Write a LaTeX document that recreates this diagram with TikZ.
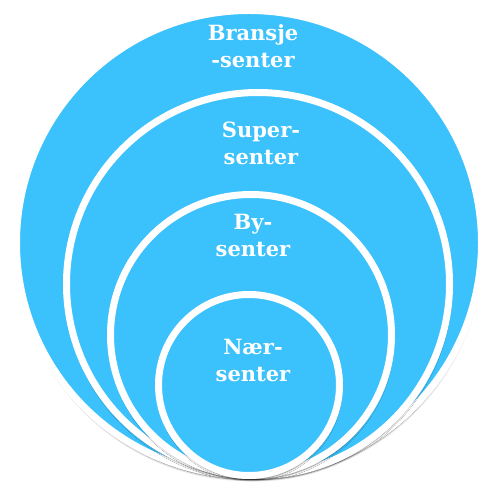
\documentclass[tikz,border=0pt]{standalone}
\usepackage{fontspec}
\setmainfont{DejaVu Serif}
\usetikzlibrary{positioning,shadows.blur}
\definecolor{ringblue}{HTML}{3BC1FC}

\begin{document}
\begin{tikzpicture}[x=1pt, y=1pt]
    \useasboundingbox (0,0) rectangle (485,487);

    \tikzstyle{ring} = [circle, draw=white, line width=7pt, fill=ringblue, inner sep=0pt,
                        blur shadow={shadow xshift=0.5pt, shadow yshift=-4pt, shadow blur steps=8, shadow opacity=55}]
    \tikzstyle{ringtext} = [text=white, font=\bfseries\fontsize{21}{27}\selectfont, align=center, inner sep=0pt]

            % node[Optionen](Name){Inhalt}
            \node (Bransje) [ring, minimum size=465pt] at (249,244) {};
            \node (Super)   [ring, minimum size=383pt] at (258,203) {};
            \node (By)      [ring, minimum size=281pt] at (251,152) {};
            \node (Naer)    [ring, minimum size=181pt] at (249,102) {};

            % ----- ----- ----- ----- ----- ----- ----- ----- ----- ----- ----- ----- ----- -----

            \node (BransjeText) [ringtext, below=17pt of Bransje.north, xshift=4pt] {Bransje\\-senter};
            \node (SuperText)   [ringtext, below=33pt of Super.north, xshift=3pt] {Super-\\senter};
            \node (ByText)      [ringtext, below=23pt of By.north, xshift=2pt] {By-\\senter};
            \node (NaerText)    [ringtext, below=48pt of Naer.north, xshift=4pt] {Nær-\\senter};
\end{tikzpicture}
\end{document}
